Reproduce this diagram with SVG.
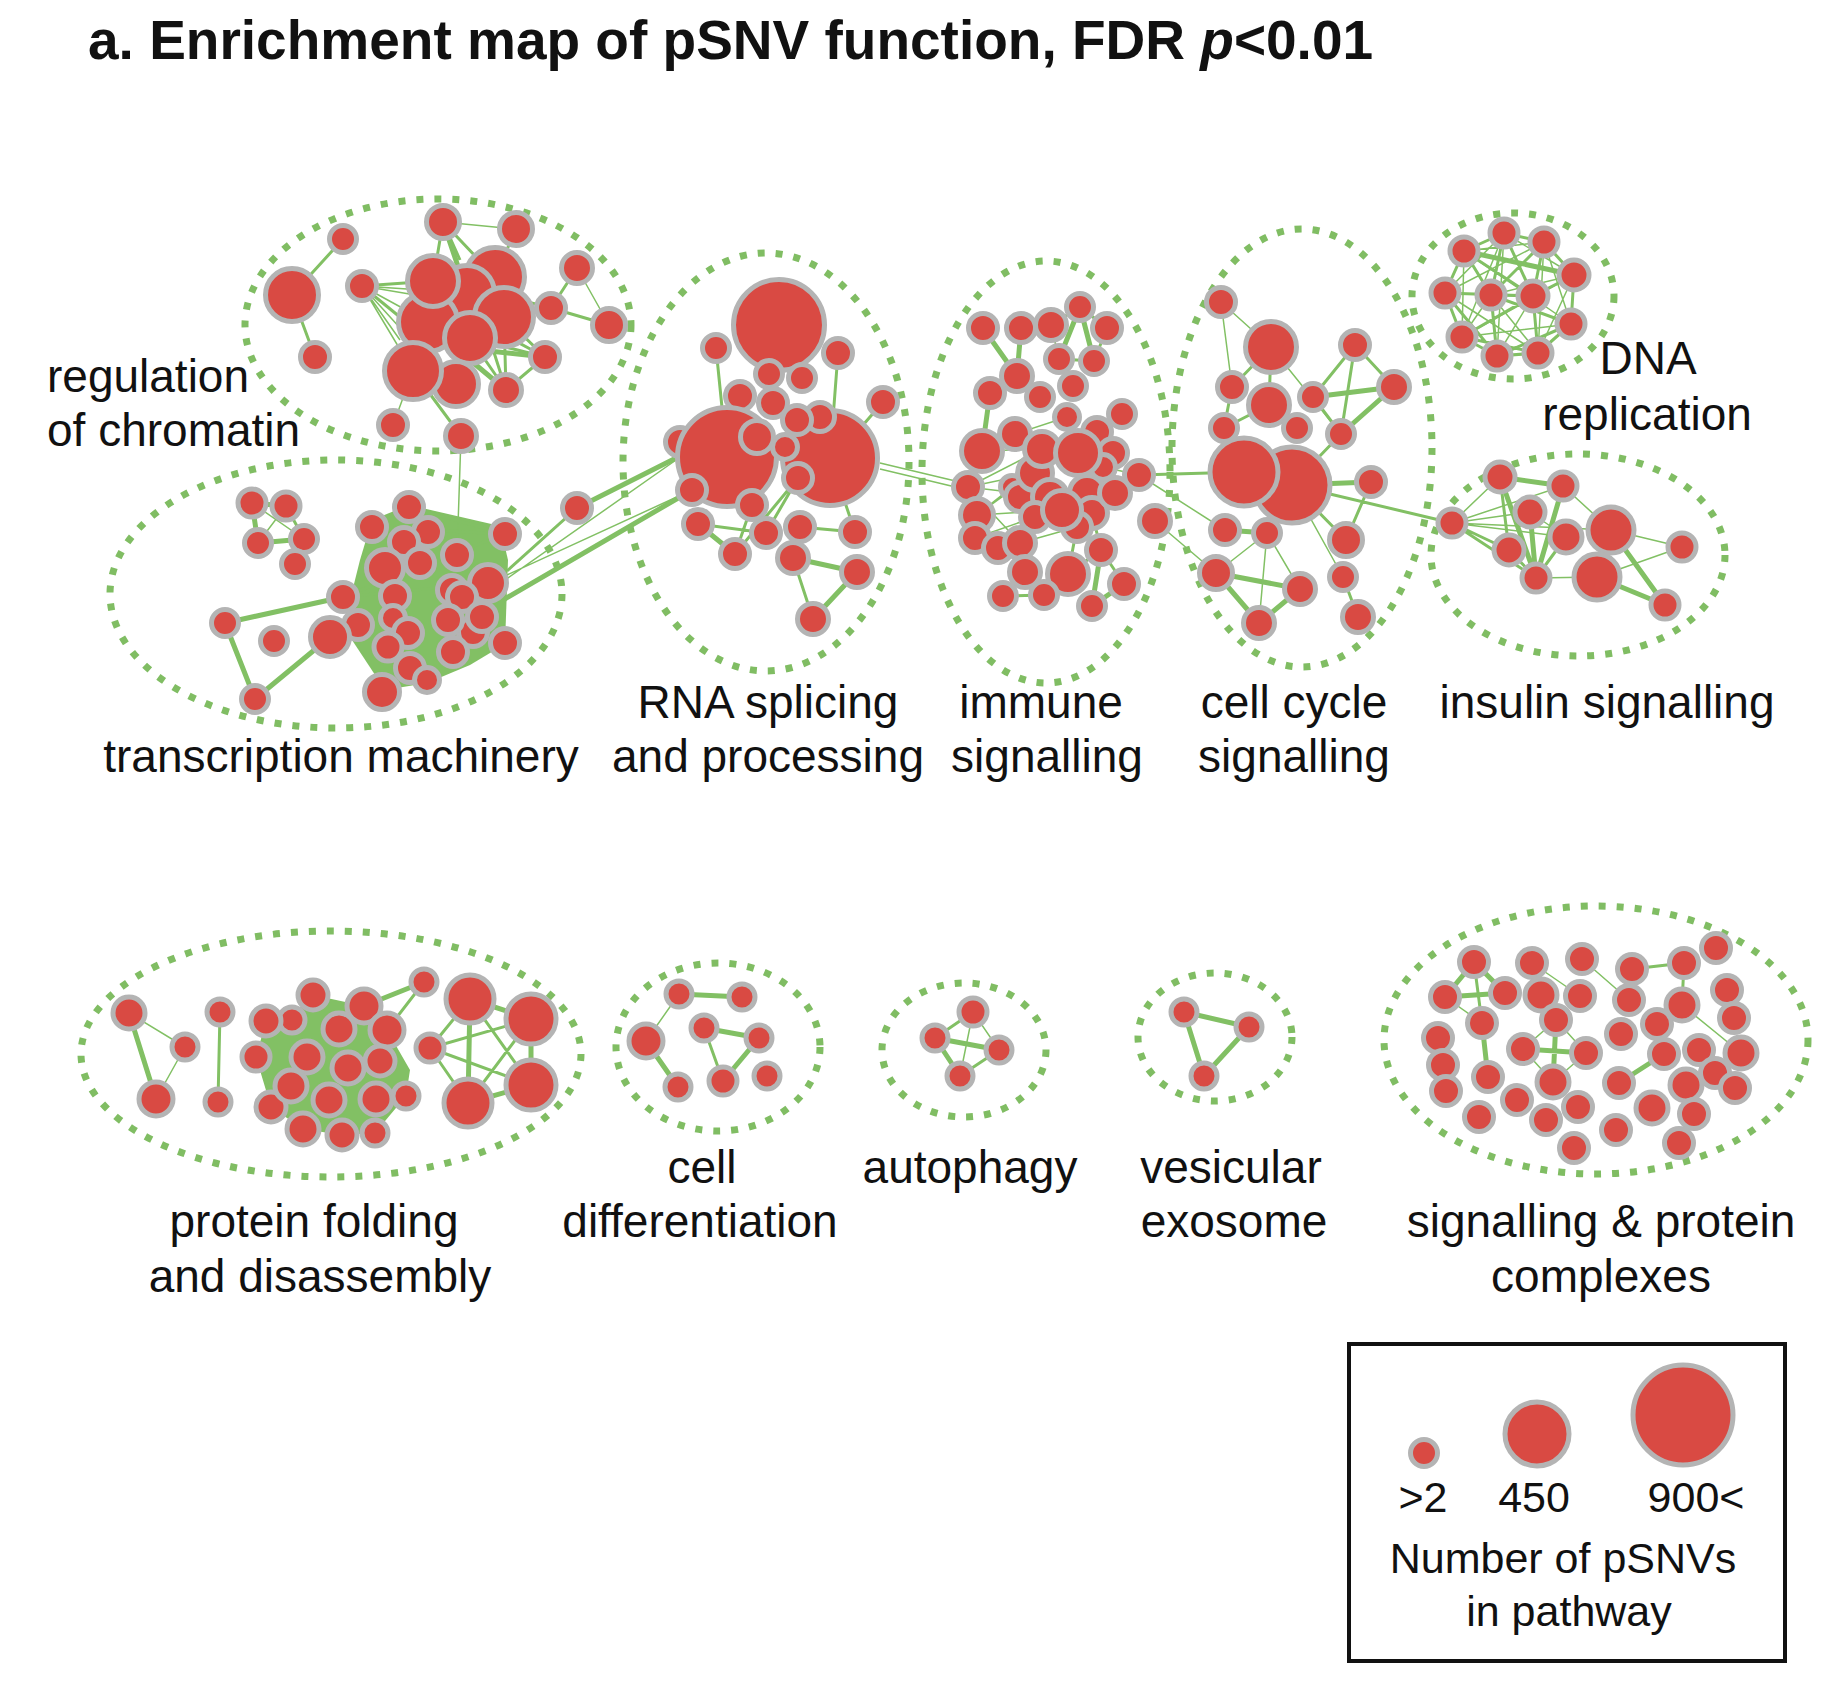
<svg xmlns="http://www.w3.org/2000/svg" width="1846" height="1682" viewBox="0 0 1846 1682">
<style>
.n{fill:#d94a43;stroke:#b4b4b4;stroke-width:5}
.b{fill:none;stroke:#80bd63;stroke-width:7;stroke-dasharray:7 11}
.e1{stroke:#82c064;stroke-width:1.5;fill:none}
.e2{stroke:#82c064;stroke-width:3;fill:none}
.e3{stroke:#82c064;stroke-width:5;fill:none}
.m{fill:#82c064}
.l{font-family:"Liberation Sans",Arial,sans-serif;font-size:46px;fill:#111;text-anchor:middle}
.ls{font-family:"Liberation Sans",Arial,sans-serif;font-size:46px;fill:#111;text-anchor:start}
.lg{font-family:"Liberation Sans",Arial,sans-serif;font-size:43px;fill:#111;text-anchor:middle}
</style>
<rect width="1846" height="1682" fill="#fff"/>
<text x="88" y="59" font-family="Liberation Sans, Arial, sans-serif" font-weight="bold" font-size="55" fill="#111">a. Enrichment map of pSNV function, FDR <tspan font-style="italic">p</tspan>&lt;0.01</text>

<g id="clusters">
<g id="cl-chromatin"><ellipse class="b" cx="438" cy="325" rx="193" ry="126"/><text class="ls" x="47" y="392">regulation</text><text class="ls" x="47" y="446">of chromatin</text></g>
<g id="cl-transcription"><ellipse class="b" cx="336" cy="594" rx="226" ry="134"/><text class="l" x="341" y="772">transcription machinery</text></g>
<g id="cl-rna"><ellipse class="b" cx="766" cy="462" rx="143" ry="209"/><text class="l" x="768" y="718">RNA splicing</text><text class="l" x="768" y="772">and processing</text></g>
<g id="cl-immune"><ellipse class="b" cx="1046" cy="472" rx="124" ry="211"/><text class="l" x="1041" y="718">immune</text><text class="l" x="1047" y="772">signalling</text></g>
<g id="cl-cellcycle"><ellipse class="b" cx="1302" cy="448" rx="130" ry="219"/><text class="l" x="1294" y="718">cell cycle</text><text class="l" x="1294" y="772">signalling</text></g>
<g id="cl-dna"><ellipse class="b" cx="1513" cy="296" rx="101" ry="83"/><text class="l" x="1648" y="374">DNA</text><text class="l" x="1647" y="430">replication</text></g>
<g id="cl-insulin"><ellipse class="b" cx="1578" cy="555" rx="147" ry="101"/><text class="l" x="1607" y="718">insulin signalling</text></g>
<g id="cl-protein"><ellipse class="b" cx="331" cy="1054" rx="250" ry="123"/><text class="l" x="314" y="1237">protein folding</text><text class="l" x="320" y="1292">and disassembly</text></g>
<g id="cl-celldiff"><ellipse class="b" cx="718" cy="1047" rx="102" ry="84"/><text class="l" x="702" y="1183">cell</text><text class="l" x="700" y="1237">differentiation</text></g>
<g id="cl-autophagy"><ellipse class="b" cx="964" cy="1050" rx="82" ry="67"/><text class="l" x="970" y="1183">autophagy</text></g>
<g id="cl-vesicular"><ellipse class="b" cx="1215" cy="1037" rx="77" ry="64"/><text class="l" x="1231" y="1183">vesicular</text><text class="l" x="1234" y="1237">exosome</text></g>
<g id="cl-signalling"><ellipse class="b" cx="1596" cy="1040" rx="212" ry="134"/><text class="l" x="1601" y="1237">signalling &amp; protein</text><text class="l" x="1601" y="1292">complexes</text></g>
</g>

<g id="connectors">
<polygon class="m" points="372,520 409,505 500,526 508,560 505,644 470,665 427,683 385,690 352,640 350,600 360,560"/>
<polygon class="m" points="266,1021 292,1015 313,995 364,1006 387,1030 410,1070 406,1096 375,1133 342,1135 303,1129 271,1107 256,1057"/>
<path class="e1" d="M577 268L609 325M413 371L393 425M461 436L457 556M362 286L428 322M362 286L413 371M362 286L467 293M362 286L445 300M362 286L420 350M362 286L400 340M443 222L516 229M286 506L258 543M252 503L304 539M505 580L686 453M507 575L692 490M880 463L968 484M880 469L968 490M968 487L1035 473M968 487L1042 449M968 487L1050 497M977 515L1035 473M977 515L1062 510M975 538L1035 517M1012 487L1042 449M998 548L1050 497M977 515L1012 487M1051 325L1059 359M1122 414L1097 432M1017 376L1040 397M1139 475L1103 467M982 451L1042 449M1015 434L1067 417M1020 543L1077 527M968 487L1020 543M1139 475L1225 530M1155 521L1216 573M1221 302L1232 387M1221 302L1271 347M1271 347L1341 434M1267 533L1216 573M1267 533L1259 623M1267 533L1300 589M1292 485L1343 577M1452 523L1500 477M1452 523L1563 486M1452 523L1530 512M1452 523L1566 537M1452 523L1611 530M1563 486L1611 530M1611 530L1682 547M1597 577L1682 547M1536 578L1597 577M1530 512L1566 537M129 1013L185 1047M185 1047L156 1099M973 1012L999 1050M973 1012L960 1076M1445 997L1482 1023M1523 1049L1553 1082M1556 1020L1523 1049M1556 1020L1586 1053M1586 1053L1553 1082M1582 959L1629 1000M1682 1005L1741 1053M1532 963L1580 996M679 994L646 1041M1504 233L1574 275M1504 233L1445 293M1544 242L1464 251M1544 242L1445 293M1464 251L1571 324M1574 275L1462 337M1445 293L1538 353M1491 295L1462 337M1491 295L1538 353M1533 296L1497 356M1571 324L1462 337M1504 233L1497 356M1544 242L1538 353M1574 275L1491 295M1574 275L1538 353M1445 293L1491 295M1464 251L1462 337M1504 233L1462 337M1544 242L1571 324"/>
<path class="e2" d="M343 239L292 295M292 295L315 357M443 222L433 281M443 222L495 277M443 222L460 260M516 229L495 277M577 268L551 308M551 308L609 325M551 308L504 317M545 357L504 317M545 357L470 338M545 357L495 330M506 390L470 338M506 390L504 317M506 390L545 357M506 390L490 340M413 371L461 436M362 286L433 281M362 286L428 340M551 308L520 300M609 325L551 308M286 506L304 539M304 539L295 564M577 508L507 571M409 507L505 534M372 527L505 534M409 507L488 583M343 597L505 534M343 597L488 583M716 348L727 457M838 353L830 458M883 402L850 440M698 524L766 533M735 554L752 505M766 533L798 478M800 527L855 532M793 558L813 619M855 532L830 458M735 554L798 478M1051 325L1080 307M1080 307L1107 328M1059 359L1094 361M1107 328L1094 361M1068 574L1101 550M1124 584L1101 550M1044 595L1025 572M1003 596L1025 572M1003 596L1044 595M1068 574L1077 527M1101 550L1092 513M975 538L977 515M1139 475L1244 472M1271 347L1232 387M1271 347L1269 405M1355 345L1313 397M1355 345L1341 434M1355 345L1394 387M1313 397L1341 434M1341 434L1292 485M1232 387L1224 428M1269 405L1224 428M1269 405L1297 428M1224 428L1244 472M1292 485L1346 540M1371 482L1346 540M1343 577L1358 617M1292 485L1267 533M1292 485L1452 523M1452 523L1509 550M1452 523L1536 578M1566 537L1536 578M1509 550L1536 578M1500 477L1509 550M220 1012L218 1102M387 1030L424 982M430 1048L470 999M430 1048L531 1019M430 1048L468 1103M430 1048L531 1085M470 999L531 1085M531 1019L468 1103M704 1028L723 1081M973 1012L935 1038M999 1050L960 1076M1474 962L1482 1023M1632 969L1684 963M1684 963L1682 1005M1504 233L1544 242M1504 233L1464 251M1544 242L1574 275M1464 251L1445 293M1574 275L1571 324M1445 293L1462 337M1462 337L1497 356M1497 356L1538 353M1538 353L1571 324M1491 295L1533 296M1464 251L1491 295M1491 295L1497 356M1533 296L1538 353M1544 242L1533 296M1504 233L1491 295M1445 293L1533 296M1491 295L1571 324M1462 337L1538 353M1504 233L1533 296M1544 242L1491 295M1574 275L1533 296M1445 293L1497 356M1571 324L1497 356M1533 296L1462 337M1464 251L1533 296"/>
<path class="e3" d="M252 503L286 506M252 503L258 543M258 543L304 539M225 623L255 699M255 699L330 637M225 623L343 597M577 508L686 453M503 600L692 490M443 222L467 293M545 357L480 350M506 390L470 360M793 558L857 572M813 619L857 572M698 524L735 554M1313 397L1394 387M1394 387L1341 434M1292 485L1371 482M1267 533L1225 530M1216 573L1300 589M1216 573L1259 623M1300 589L1259 623M990 393L982 451M983 328L1017 376M1021 328L1017 376M1017 376L990 393M1080 307L1059 359M1080 307L1094 361M1092 606L1101 550M1092 606L1124 584M1500 477L1563 486M1500 477L1536 578M1563 486L1536 578M1530 512L1536 578M1611 530L1665 605M1597 577L1665 605M129 1013L156 1099M364 1006L424 982M470 999L531 1019M468 1103L531 1085M470 999L468 1103M531 1019L531 1085M679 994L742 997M646 1041L678 1087M704 1028L759 1038M759 1038L723 1081M935 1038L999 1050M935 1038L960 1076M1184 1012L1249 1027M1184 1012L1204 1076M1249 1027L1204 1076M1474 962L1445 997M1474 962L1505 993M1445 997L1505 993M1482 1023L1488 1077M1523 1049L1586 1053M1556 1020L1553 1082M1619 1083L1664 1054M1464 251L1574 275"/>
</g>

<g id="nodes">
<g id="c1"><circle class="n" cx="343" cy="239" r="13.5"/></g>
<g id="c2"><circle class="n" cx="443" cy="222" r="16.5"/></g>
<g id="c3"><circle class="n" cx="516" cy="229" r="16.5"/></g>
<g id="c4"><circle class="n" cx="292" cy="295" r="26.5"/></g>
<g id="c5"><circle class="n" cx="362" cy="286" r="14.5"/></g>
<g id="c6"><circle class="n" cx="495" cy="277" r="29.5"/></g>
<g id="c8"><circle class="n" cx="467" cy="293" r="27.5"/></g>
<g id="c9"><circle class="n" cx="428" cy="322" r="29.5"/></g>
<g id="c7"><circle class="n" cx="433" cy="281" r="25.5"/></g>
<g id="c10"><circle class="n" cx="504" cy="317" r="29.5"/></g>
<g id="c11"><circle class="n" cx="470" cy="338" r="25.5"/></g>
<g id="c13"><circle class="n" cx="456" cy="384" r="22.5"/></g>
<g id="c12"><circle class="n" cx="413" cy="371" r="28.5"/></g>
<g id="c14"><circle class="n" cx="577" cy="268" r="15.5"/></g>
<g id="c15"><circle class="n" cx="551" cy="308" r="14.5"/></g>
<g id="c16"><circle class="n" cx="609" cy="325" r="16.5"/></g>
<g id="c17"><circle class="n" cx="545" cy="357" r="14.5"/></g>
<g id="c18"><circle class="n" cx="506" cy="390" r="15.5"/></g>
<g id="c19"><circle class="n" cx="315" cy="357" r="14.5"/></g>
<g id="c20"><circle class="n" cx="393" cy="425" r="14.5"/></g>
<g id="c21"><circle class="n" cx="461" cy="436" r="15.5"/></g>

<g id="t1"><circle class="n" cx="252" cy="503" r="14"/></g>
<g id="t2"><circle class="n" cx="286" cy="506" r="14"/></g>
<g id="t3"><circle class="n" cx="258" cy="543" r="13.5"/></g>
<g id="t4"><circle class="n" cx="304" cy="539" r="13.5"/></g>
<g id="t5"><circle class="n" cx="295" cy="564" r="13.5"/></g>
<g id="t6"><circle class="n" cx="225" cy="623" r="13.5"/></g>
<g id="t7"><circle class="n" cx="255" cy="699" r="13.5"/></g>
<g id="t8"><circle class="n" cx="274" cy="641" r="13.5"/></g>
<g id="t28"><circle class="n" cx="473" cy="632" r="14.5"/></g>
<g id="t9"><circle class="n" cx="409" cy="507" r="14.5"/></g>
<g id="t10"><circle class="n" cx="372" cy="527" r="14.5"/></g>
<g id="t11"><circle class="n" cx="428" cy="532" r="14.5"/></g>
<g id="t12"><circle class="n" cx="505" cy="534" r="14.5"/></g>
<g id="t13"><circle class="n" cx="404" cy="542" r="14.5"/></g>
<g id="t14"><circle class="n" cx="457" cy="555" r="14.5"/></g>
<g id="t15"><circle class="n" cx="420" cy="563" r="14.5"/></g>
<g id="t16"><circle class="n" cx="385" cy="568" r="18.5"/></g>
<g id="t17"><circle class="n" cx="343" cy="597" r="14.5"/></g>
<g id="t18"><circle class="n" cx="395" cy="596" r="14.5"/></g>
<g id="t19"><circle class="n" cx="488" cy="583" r="18.5"/></g>
<g id="t20"><circle class="n" cx="452" cy="590" r="14.5"/></g>
<g id="t21"><circle class="n" cx="462" cy="597" r="14.5"/></g>
<g id="t22"><circle class="n" cx="482" cy="617" r="14.5"/></g>
<g id="t23"><circle class="n" cx="448" cy="620" r="14.5"/></g>
<g id="t24"><circle class="n" cx="393" cy="618" r="12.5"/></g>
<g id="t25"><circle class="n" cx="358" cy="625" r="14.5"/></g>
<g id="t26"><circle class="n" cx="330" cy="637" r="19.5"/></g>
<g id="t27"><circle class="n" cx="408" cy="633" r="14.5"/></g>
<g id="t29"><circle class="n" cx="388" cy="647" r="14"/></g>
<g id="t30"><circle class="n" cx="453" cy="652" r="14.5"/></g>
<g id="t31"><circle class="n" cx="505" cy="643" r="14.5"/></g>
<g id="t32"><circle class="n" cx="410" cy="668" r="14.5"/></g>
<g id="t33"><circle class="n" cx="427" cy="680" r="12.5"/></g>
<g id="t34"><circle class="n" cx="382" cy="692" r="17.5"/></g>
<g id="t35"><circle class="n" cx="577" cy="508" r="14.5"/></g>

<g id="r0"><circle class="n" cx="680" cy="442" r="14.5"/></g>
<g id="r6"><circle class="n" cx="740" cy="396" r="14.5"/></g>
<g id="r1"><circle class="n" cx="779" cy="325" r="45.5"/></g>
<g id="r12"><circle class="n" cx="830" cy="458" r="47.5"/></g>
<g id="r11"><circle class="n" cx="727" cy="457" r="49.5"/></g>
<g id="r2"><circle class="n" cx="716" cy="348" r="13.5"/></g>
<g id="r3"><circle class="n" cx="838" cy="353" r="14.5"/></g>
<g id="r4"><circle class="n" cx="769" cy="374" r="13.5"/></g>
<g id="r5"><circle class="n" cx="802" cy="378" r="13.5"/></g>
<g id="r7"><circle class="n" cx="773" cy="403" r="14.5"/></g>
<g id="r8"><circle class="n" cx="820" cy="417" r="14.5"/></g>
<g id="r9"><circle class="n" cx="797" cy="420" r="14.5"/></g>
<g id="r10"><circle class="n" cx="883" cy="402" r="14.5"/></g>
<g id="r14"><circle class="n" cx="785" cy="447" r="12.5"/></g>
<g id="r13"><circle class="n" cx="757" cy="437" r="16.5"/></g>
<g id="r15"><circle class="n" cx="798" cy="478" r="14.5"/></g>
<g id="r16"><circle class="n" cx="692" cy="490" r="14.5"/></g>
<g id="r17"><circle class="n" cx="752" cy="505" r="14.5"/></g>
<g id="r18"><circle class="n" cx="698" cy="524" r="14.5"/></g>
<g id="r19"><circle class="n" cx="766" cy="533" r="14.5"/></g>
<g id="r20"><circle class="n" cx="800" cy="527" r="14.5"/></g>
<g id="r21"><circle class="n" cx="855" cy="532" r="14.5"/></g>
<g id="r22"><circle class="n" cx="735" cy="554" r="14.5"/></g>
<g id="r23"><circle class="n" cx="793" cy="558" r="15.5"/></g>
<g id="r24"><circle class="n" cx="857" cy="572" r="15.5"/></g>
<g id="r25"><circle class="n" cx="813" cy="619" r="15.5"/></g>

<g id="i1"><circle class="n" cx="983" cy="328" r="14.5"/></g>
<g id="i2"><circle class="n" cx="1021" cy="328" r="14.5"/></g>
<g id="i3"><circle class="n" cx="1051" cy="325" r="15.5"/></g>
<g id="i4"><circle class="n" cx="1080" cy="307" r="13.5"/></g>
<g id="i5"><circle class="n" cx="1107" cy="328" r="14.5"/></g>
<g id="i6"><circle class="n" cx="1059" cy="359" r="13.5"/></g>
<g id="i7"><circle class="n" cx="1094" cy="361" r="13.5"/></g>
<g id="i8"><circle class="n" cx="1017" cy="376" r="15.5"/></g>
<g id="i9"><circle class="n" cx="990" cy="393" r="14.5"/></g>
<g id="i10"><circle class="n" cx="1040" cy="397" r="13.5"/></g>
<g id="i11"><circle class="n" cx="1073" cy="386" r="13.5"/></g>
<g id="i12"><circle class="n" cx="1067" cy="417" r="12.5"/></g>
<g id="i13"><circle class="n" cx="1122" cy="414" r="13.5"/></g>
<g id="i14"><circle class="n" cx="1015" cy="434" r="15.5"/></g>
<g id="i15"><circle class="n" cx="982" cy="451" r="20.5"/></g>
<g id="i24"><circle class="n" cx="1012" cy="487" r="11.5"/></g>
<g id="i43"><circle class="n" cx="1020" cy="497" r="14.5"/></g>
<g id="i23"><circle class="n" cx="1035" cy="473" r="17.5"/></g>
<g id="i16"><circle class="n" cx="1042" cy="449" r="17.5"/></g>
<g id="i26"><circle class="n" cx="1050" cy="497" r="17.5"/></g>
<g id="i44"><circle class="n" cx="1087" cy="493" r="17.5"/></g>
<g id="i29"><circle class="n" cx="1092" cy="513" r="15.5"/></g>
<g id="i34"><circle class="n" cx="1077" cy="527" r="14.5"/></g>
<g id="i28"><circle class="n" cx="1035" cy="517" r="14.5"/></g>
<g id="i25"><circle class="n" cx="1115" cy="493" r="15.5"/></g>
<g id="i17"><circle class="n" cx="1097" cy="432" r="14.5"/></g>
<g id="i19"><circle class="n" cx="1113" cy="453" r="14.5"/></g>
<g id="i20"><circle class="n" cx="1103" cy="467" r="12.5"/></g>
<g id="i18"><circle class="n" cx="1078" cy="453" r="22.5"/></g>
<g id="i27"><circle class="n" cx="1062" cy="510" r="19.5"/></g>
<g id="i21"><circle class="n" cx="1139" cy="475" r="14.5"/></g>
<g id="i22"><circle class="n" cx="968" cy="487" r="14.5"/></g>
<g id="i30"><circle class="n" cx="977" cy="515" r="16.5"/></g>
<g id="i31"><circle class="n" cx="975" cy="538" r="14.5"/></g>
<g id="i32"><circle class="n" cx="998" cy="548" r="14.5"/></g>
<g id="i33"><circle class="n" cx="1020" cy="543" r="15.5"/></g>
<g id="i35"><circle class="n" cx="1101" cy="550" r="14.5"/></g>
<g id="i36"><circle class="n" cx="1025" cy="572" r="15.5"/></g>
<g id="i37"><circle class="n" cx="1068" cy="574" r="20.5"/></g>
<g id="i38"><circle class="n" cx="1124" cy="584" r="14.5"/></g>
<g id="i39"><circle class="n" cx="1003" cy="596" r="13.5"/></g>
<g id="i40"><circle class="n" cx="1044" cy="595" r="13.5"/></g>
<g id="i41"><circle class="n" cx="1092" cy="606" r="13.5"/></g>
<g id="i42"><circle class="n" cx="1155" cy="521" r="15.5"/></g>

<g id="cc1"><circle class="n" cx="1221" cy="302" r="14.5"/></g>
<g id="cc2"><circle class="n" cx="1271" cy="347" r="25.5"/></g>
<g id="cc3"><circle class="n" cx="1355" cy="345" r="14.5"/></g>
<g id="cc4"><circle class="n" cx="1232" cy="387" r="14.5"/></g>
<g id="cc5"><circle class="n" cx="1269" cy="405" r="20.5"/></g>
<g id="cc6"><circle class="n" cx="1313" cy="397" r="13.5"/></g>
<g id="cc7"><circle class="n" cx="1394" cy="387" r="15.5"/></g>
<g id="cc8"><circle class="n" cx="1224" cy="428" r="13.5"/></g>
<g id="cc9"><circle class="n" cx="1297" cy="428" r="13.5"/></g>
<g id="cc10"><circle class="n" cx="1341" cy="434" r="13.5"/></g>
<g id="cc12"><circle class="n" cx="1292" cy="485" r="38"/></g>
<g id="cc11"><circle class="n" cx="1244" cy="472" r="34"/></g>
<g id="cc13"><circle class="n" cx="1371" cy="482" r="14.5"/></g>
<g id="cc14"><circle class="n" cx="1225" cy="530" r="14.5"/></g>
<g id="cc15"><circle class="n" cx="1267" cy="533" r="13.5"/></g>
<g id="cc16"><circle class="n" cx="1346" cy="540" r="16.5"/></g>
<g id="cc17"><circle class="n" cx="1216" cy="573" r="16.5"/></g>
<g id="cc18"><circle class="n" cx="1343" cy="577" r="13.5"/></g>
<g id="cc19"><circle class="n" cx="1300" cy="589" r="15.5"/></g>
<g id="cc20"><circle class="n" cx="1259" cy="623" r="15.5"/></g>
<g id="cc21"><circle class="n" cx="1358" cy="617" r="15.5"/></g>

<g id="d1"><circle class="n" cx="1504" cy="233" r="14"/></g>
<g id="d2"><circle class="n" cx="1544" cy="242" r="14"/></g>
<g id="d3"><circle class="n" cx="1464" cy="251" r="14"/></g>
<g id="d4"><circle class="n" cx="1574" cy="275" r="15"/></g>
<g id="d5"><circle class="n" cx="1445" cy="293" r="14"/></g>
<g id="d6"><circle class="n" cx="1491" cy="295" r="14"/></g>
<g id="d7"><circle class="n" cx="1533" cy="296" r="15"/></g>
<g id="d8"><circle class="n" cx="1571" cy="324" r="14"/></g>
<g id="d9"><circle class="n" cx="1462" cy="337" r="14"/></g>
<g id="d10"><circle class="n" cx="1497" cy="356" r="14"/></g>
<g id="d11"><circle class="n" cx="1538" cy="353" r="14"/></g>

<g id="s1"><circle class="n" cx="1452" cy="523" r="14"/></g>
<g id="s2"><circle class="n" cx="1500" cy="477" r="15"/></g>
<g id="s3"><circle class="n" cx="1563" cy="486" r="14"/></g>
<g id="s4"><circle class="n" cx="1530" cy="512" r="15"/></g>
<g id="s5"><circle class="n" cx="1566" cy="537" r="16"/></g>
<g id="s6"><circle class="n" cx="1509" cy="550" r="15"/></g>
<g id="s7"><circle class="n" cx="1611" cy="530" r="23"/></g>
<g id="s8"><circle class="n" cx="1682" cy="547" r="14"/></g>
<g id="s9"><circle class="n" cx="1536" cy="578" r="14"/></g>
<g id="s10"><circle class="n" cx="1597" cy="577" r="23"/></g>
<g id="s11"><circle class="n" cx="1665" cy="605" r="14"/></g>

<g id="p1"><circle class="n" cx="129" cy="1013" r="16"/></g>
<g id="p2"><circle class="n" cx="185" cy="1047" r="13"/></g>
<g id="p3"><circle class="n" cx="156" cy="1099" r="17"/></g>
<g id="p4"><circle class="n" cx="220" cy="1012" r="13"/></g>
<g id="p5"><circle class="n" cx="218" cy="1102" r="13"/></g>
<g id="p7"><circle class="n" cx="292" cy="1020" r="13"/></g>
<g id="p6"><circle class="n" cx="266" cy="1021" r="15"/></g>
<g id="p8"><circle class="n" cx="313" cy="995" r="15"/></g>
<g id="p9"><circle class="n" cx="364" cy="1006" r="17"/></g>
<g id="p10"><circle class="n" cx="424" cy="982" r="13"/></g>
<g id="p11"><circle class="n" cx="470" cy="999" r="24"/></g>
<g id="p12"><circle class="n" cx="531" cy="1019" r="25"/></g>
<g id="p13"><circle class="n" cx="339" cy="1029" r="16"/></g>
<g id="p14"><circle class="n" cx="387" cy="1030" r="17"/></g>
<g id="p15"><circle class="n" cx="256" cy="1057" r="14"/></g>
<g id="p16"><circle class="n" cx="307" cy="1057" r="16"/></g>
<g id="p17"><circle class="n" cx="348" cy="1068" r="16"/></g>
<g id="p18"><circle class="n" cx="380" cy="1061" r="15"/></g>
<g id="p19"><circle class="n" cx="430" cy="1048" r="14"/></g>
<g id="p21"><circle class="n" cx="271" cy="1107" r="15"/></g>
<g id="p20"><circle class="n" cx="291" cy="1086" r="16"/></g>
<g id="p22"><circle class="n" cx="329" cy="1100" r="16"/></g>
<g id="p23"><circle class="n" cx="376" cy="1099" r="16"/></g>
<g id="p24"><circle class="n" cx="406" cy="1096" r="13"/></g>
<g id="p25"><circle class="n" cx="468" cy="1103" r="24"/></g>
<g id="p26"><circle class="n" cx="531" cy="1085" r="25"/></g>
<g id="p27"><circle class="n" cx="303" cy="1129" r="16"/></g>
<g id="p28"><circle class="n" cx="342" cy="1135" r="15"/></g>
<g id="p29"><circle class="n" cx="375" cy="1133" r="13"/></g>

<g id="f1"><circle class="n" cx="679" cy="994" r="13"/></g>
<g id="f2"><circle class="n" cx="742" cy="997" r="13"/></g>
<g id="f3"><circle class="n" cx="646" cy="1041" r="17"/></g>
<g id="f4"><circle class="n" cx="704" cy="1028" r="13"/></g>
<g id="f5"><circle class="n" cx="759" cy="1038" r="13"/></g>
<g id="f6"><circle class="n" cx="678" cy="1087" r="13"/></g>
<g id="f7"><circle class="n" cx="723" cy="1081" r="14"/></g>
<g id="f8"><circle class="n" cx="767" cy="1076" r="13"/></g>

<g id="a1"><circle class="n" cx="973" cy="1012" r="14"/></g>
<g id="a2"><circle class="n" cx="935" cy="1038" r="13"/></g>
<g id="a3"><circle class="n" cx="999" cy="1050" r="13"/></g>
<g id="a4"><circle class="n" cx="960" cy="1076" r="13"/></g>

<g id="v1"><circle class="n" cx="1184" cy="1012" r="13"/></g>
<g id="v2"><circle class="n" cx="1249" cy="1027" r="13"/></g>
<g id="v3"><circle class="n" cx="1204" cy="1076" r="13"/></g>

<g id="g1"><circle class="n" cx="1474" cy="962" r="14.5"/></g>
<g id="g2"><circle class="n" cx="1445" cy="997" r="14.5"/></g>
<g id="g3"><circle class="n" cx="1505" cy="993" r="14.5"/></g>
<g id="g4"><circle class="n" cx="1482" cy="1023" r="14.5"/></g>
<g id="g5"><circle class="n" cx="1438" cy="1038" r="14.5"/></g>
<g id="g6"><circle class="n" cx="1443" cy="1065" r="14.5"/></g>
<g id="g7"><circle class="n" cx="1446" cy="1091" r="14.5"/></g>
<g id="g8"><circle class="n" cx="1488" cy="1077" r="14.5"/></g>
<g id="g9"><circle class="n" cx="1479" cy="1117" r="14.5"/></g>
<g id="g10"><circle class="n" cx="1532" cy="963" r="14.5"/></g>
<g id="g11"><circle class="n" cx="1541" cy="995" r="16"/></g>
<g id="g12"><circle class="n" cx="1556" cy="1020" r="14.5"/></g>
<g id="g13"><circle class="n" cx="1523" cy="1049" r="14.5"/></g>
<g id="g14"><circle class="n" cx="1586" cy="1053" r="14.5"/></g>
<g id="g15"><circle class="n" cx="1553" cy="1082" r="16"/></g>
<g id="g16"><circle class="n" cx="1517" cy="1100" r="14.5"/></g>
<g id="g17"><circle class="n" cx="1546" cy="1120" r="14.5"/></g>
<g id="g18"><circle class="n" cx="1578" cy="1107" r="14.5"/></g>
<g id="g19"><circle class="n" cx="1574" cy="1148" r="14.5"/></g>
<g id="g20"><circle class="n" cx="1582" cy="959" r="14.5"/></g>
<g id="g21"><circle class="n" cx="1580" cy="996" r="14.5"/></g>
<g id="g22"><circle class="n" cx="1632" cy="969" r="14.5"/></g>
<g id="g23"><circle class="n" cx="1629" cy="1000" r="14.5"/></g>
<g id="g24"><circle class="n" cx="1621" cy="1034" r="14.5"/></g>
<g id="g25"><circle class="n" cx="1619" cy="1083" r="14.5"/></g>
<g id="g26"><circle class="n" cx="1616" cy="1130" r="14.5"/></g>
<g id="g27"><circle class="n" cx="1657" cy="1024" r="14.5"/></g>
<g id="g28"><circle class="n" cx="1664" cy="1054" r="14.5"/></g>
<g id="g29"><circle class="n" cx="1652" cy="1108" r="16"/></g>
<g id="g30"><circle class="n" cx="1684" cy="963" r="14.5"/></g>
<g id="g31"><circle class="n" cx="1682" cy="1005" r="16"/></g>
<g id="g32"><circle class="n" cx="1699" cy="1050" r="14.5"/></g>
<g id="g33"><circle class="n" cx="1686" cy="1085" r="16"/></g>
<g id="g34"><circle class="n" cx="1694" cy="1114" r="14.5"/></g>
<g id="g35"><circle class="n" cx="1679" cy="1143" r="14.5"/></g>
<g id="g36"><circle class="n" cx="1716" cy="948" r="14.5"/></g>
<g id="g37"><circle class="n" cx="1727" cy="990" r="14.5"/></g>
<g id="g38"><circle class="n" cx="1734" cy="1018" r="14.5"/></g>
<g id="g40"><circle class="n" cx="1715" cy="1073" r="14.5"/></g>
<g id="g39"><circle class="n" cx="1741" cy="1053" r="16"/></g>
<g id="g41"><circle class="n" cx="1735" cy="1088" r="14.5"/></g>
</g>

<g id="legend">
<rect x="1349" y="1344" width="436" height="317" fill="none" stroke="#111" stroke-width="4"/>
<circle class="n" cx="1424" cy="1453" r="13.5"/>
<circle class="n" cx="1537" cy="1434" r="32"/>
<circle class="n" cx="1683" cy="1415" r="50"/>
<text class="lg" x="1423" y="1512">&gt;2</text>
<text class="lg" x="1534" y="1512">450</text>
<text class="lg" x="1696" y="1512">900&lt;</text>
<text class="lg" x="1563" y="1573">Number of pSNVs</text>
<text class="lg" x="1569" y="1626">in pathway</text>
</g>
</svg>
